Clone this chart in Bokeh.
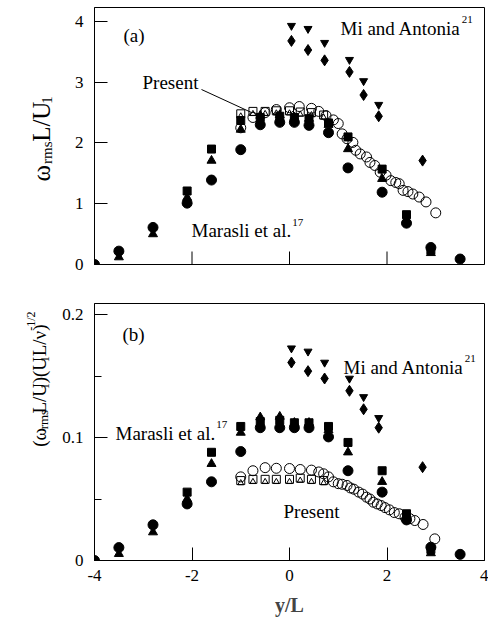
import numpy as np
from bokeh.plotting import figure
from bokeh.models import Range1d, FixedTicker, Label
from bokeh.layouts import column, row
from bokeh.embed import file_html
from bokeh.resources import INLINE

FONT = "Liberation Serif"

# ---------------- data ----------------
# Marasli et al. (filled circles / triangles / squares)
mar_x_circ = [-4.0, -3.5, -2.8, -2.1, -1.6, -1.0, -0.6, -0.2, 0.1, 0.4, 0.8, 1.2, 1.9, 2.4, 2.9, 3.5]
mar_x_tri = [-3.5, -2.8, -2.1, -1.6, -1.0, -0.6, -0.2, 0.1, 0.4, 0.8, 1.2, 1.9, 2.4, 2.9]
mar_x_sq = [-2.1, -1.6, -1.0, -0.6, -0.2, 0.1, 0.4, 0.8, 1.2, 1.9, 2.4, 2.9]

a_mar_circ = [0.0, 0.22, 0.61, 1.01, 1.39, 1.89, 2.30, 2.34, 2.34, 2.29, 2.17, 1.59, 1.19, 0.68, 0.28, 0.09]
a_mar_tri = [0.12, 0.50, 1.10, 1.71, 2.22, 2.45, 2.46, 2.42, 2.40, 2.30, 1.90, 1.41, 0.74, 0.19]
a_mar_sq = [1.21, 1.90, 2.37, 2.42, 2.44, 2.42, 2.40, 2.33, 2.10, 1.57, 0.82, 0.24]

b_mar_circ = [0.0, 0.0105, 0.029, 0.046, 0.064, 0.0886, 0.108, 0.108, 0.108, 0.108, 0.1005, 0.073, 0.0556, 0.033, 0.0108, 0.005]
b_mar_tri = [0.0054, 0.023, 0.05, 0.0786, 0.104, 0.1165, 0.117, 0.112, 0.112, 0.106, 0.088, 0.064, 0.036, 0.006]
b_mar_sq = [0.0556, 0.088, 0.109, 0.113, 0.114, 0.112, 0.112, 0.109, 0.096, 0.073, 0.038, 0.009]

# Mi and Antonia (inverted triangles / diamonds)
mi_x_tri = [0.04, 0.38, 0.72, 1.23, 1.52, 1.83]
mi_x_dia = [0.04, 0.38, 0.72, 1.23, 1.52, 1.83, 2.73]
a_mi_tri = [3.93, 3.88, 3.65, 3.37, 3.02, 2.63]
a_mi_dia = [3.68, 3.53, 3.36, 3.17, 2.79, 2.44, 1.71]
b_mi_tri = [0.1726, 0.170, 0.161, 0.148, 0.133, 0.116]
b_mi_dia = [0.161, 0.154, 0.148, 0.138, 0.123, 0.108, 0.0759]

# Present (open circles / squares / triangles)
pr_x_sq = [-1.0, -0.75, -0.5, -0.27, 0.0, 0.22, 0.45, 0.7]
a_pr_sq = [2.48, 2.52, 2.52, 2.53, 2.53, 2.51, 2.50, 2.46]
a_pr_tri = [2.44, 2.48, 2.48, 2.49, 2.49, 2.47, 2.46, 2.42]
b_pr_sq = [0.065, 0.066, 0.066, 0.066, 0.066, 0.067, 0.066, 0.065]
b_pr_tri = [0.063, 0.064, 0.064, 0.064, 0.064, 0.065, 0.064, 0.063]

a_pr_x_circ = [-1.0, -0.75, -0.5, -0.27, 0.0, 0.2, 0.45, 0.6, 0.75, 0.9, 1.0, 1.08, 1.18, 1.3, 1.36,
               1.45, 1.58, 1.65, 1.75, 1.86, 1.98, 2.08, 2.18, 2.25, 2.33, 2.43, 2.53, 2.66, 2.8, 3.0]
a_pr_circ = [2.25, 2.42, 2.50, 2.55, 2.58, 2.60, 2.57, 2.52, 2.45, 2.38, 2.32, 2.15, 2.07, 2.01, 1.88,
             1.82, 1.77, 1.68, 1.63, 1.52, 1.47, 1.38, 1.35, 1.33, 1.22, 1.20, 1.16, 1.11, 1.03, 0.85]
b_pr_x_circ = [-1.0, -0.75, -0.5, -0.27, 0.0, 0.22, 0.45, 0.6, 0.7, 0.8, 0.9, 1.0, 1.08, 1.18, 1.25, 1.32,
               1.42, 1.5, 1.58, 1.65, 1.72, 1.8, 1.88, 1.96, 2.05, 2.15, 2.25, 2.37, 2.47, 2.57, 2.74, 2.98]
b_pr_circ = [0.068, 0.073, 0.0755, 0.075, 0.0748, 0.074, 0.0735, 0.072, 0.0705, 0.068, 0.064, 0.0625, 0.062,
             0.061, 0.059, 0.058, 0.0556, 0.054, 0.0515, 0.050, 0.0474, 0.046, 0.0447, 0.043, 0.0412, 0.039,
             0.038, 0.0352, 0.034, 0.0325, 0.0293, 0.0176]

x_ticks = [-4, -2, 0, 2, 4]
x_tick_labels = ["-4", "-2", "0", "2", "4"]
a_y_ticks = [0, 1, 2, 3, 4]
a_y_tick_labels = ["0", "1", "2", "3", "4"]
b_y_ticks = [0, 0.1, 0.2]
b_y_minor = [0.05, 0.15]
b_y_tick_labels = ["0", "0.1", "0.2"]

# ---------------- layout helpers ----------------
W = 488
LW = 56            # width of the side strip holding the rotated y labels
FL, FR = 94, 484   # frame left/right in page pixels
XR = (-4.0, 4.0)
YA = (0.0, 4.23)
YB = (0.0, 0.209)


def sx(px):
    return XR[0] + (px - FL) * (XR[1] - XR[0]) / (FR - FL)


def make_sy(top, bottom, yr):
    def f(py):
        return yr[0] + (bottom - py) * (yr[1] - yr[0]) / (bottom - top)
    return f


WID = {'(': 0.333, ')': 0.333, 'ω': 0.70, 'r': 0.333, 'm': 0.778, 's': 0.389, 'L': 0.611,
       '/': 0.278, 'U': 0.722, '1': 0.5, '2': 0.5, '7': 0.5, 'ν': 0.5, '-': 0.333, 'M': 0.889,
       'a': 0.444, 'i': 0.278, 'n': 0.5, 'd': 0.5, ' ': 0.25, 'A': 0.722, 't': 0.278, 'o': 0.5,
       'l': 0.278, 'e': 0.444, '.': 0.25, 'P': 0.556}


def tw(s, size):
    return sum(WID.get(c, 0.5) for c in s) * size


def hlabel(p, text, px, py, size, sy):
    p.add_layout(Label(x=sx(px), y=sy(py), text=text, text_font=FONT, text_font_size=f"{size}px",
                       text_align="left", text_baseline="alphabetic", text_color="black"))


def label_strip(h, pieces, px_base, py_start, gap):
    """A narrow figure whose data coordinates are page pixels; holds a rotated, multi-piece label."""
    s = figure(width=LW, height=h, x_range=Range1d(0, LW), y_range=Range1d(h, 0),
               output_backend="svg", toolbar_location=None,
               min_border_left=0, min_border_right=0, min_border_top=0, min_border_bottom=0)
    s.axis.visible = False
    s.grid.visible = False
    s.outline_line_color = None
    s.background_fill_color = "white"
    s.border_fill_color = "white"
    py = py_start
    for text, size, shift in pieces:
        s.add_layout(Label(x=px_base + shift, y=py, text=text, angle=np.pi / 2,
                           text_font=FONT, text_font_size=f"{size}px", text_align="left",
                           text_baseline="alphabetic", text_color="black"))
        py -= tw(text, size) + gap
    return s


def make_fig(h, top, bottom, yr, yticks, ylabels, show_x_labels, minor=None):
    p = figure(width=W - LW, height=h, x_range=Range1d(*XR), y_range=Range1d(*yr),
               output_backend="svg", toolbar_location=None,
               min_border_left=FL - LW, min_border_right=W - FR,
               min_border_top=top, min_border_bottom=bottom)
    p.grid.visible = False
    p.outline_line_color = "black"
    p.outline_line_width = 1
    p.background_fill_color = "white"
    p.border_fill_color = "white"
    for ax in (p.xaxis[0], p.yaxis[0]):
        ax.axis_line_color = "black"
        ax.major_tick_line_color = "black"
        ax.minor_tick_line_color = "black"
        ax.major_tick_in = 13
        ax.major_tick_out = 0
        ax.minor_tick_in = 7
        ax.minor_tick_out = 0
        ax.major_label_text_font = FONT
        ax.major_label_text_font_size = "17px"
        ax.major_label_text_color = "black"
    p.xaxis.ticker = FixedTicker(ticks=x_ticks, minor_ticks=[])
    p.xaxis.major_label_overrides = {t: l for t, l in zip(x_ticks, x_tick_labels)}
    p.xaxis.major_label_standoff = 9
    if not show_x_labels:
        # upper panel: tick marks only, no numbers
        p.xaxis.visible = False
        tick_len = 13 * (yr[1] - yr[0]) / (h - top - bottom)
        p.segment(x0=x_ticks, y0=[yr[0]] * len(x_ticks), x1=x_ticks,
                  y1=[yr[0] + tick_len] * len(x_ticks), line_color="black", line_width=1)
        p.segment(x0=[XR[0]], y0=[yr[0]], x1=[XR[1]], y1=[yr[0]], line_color="black", line_width=1)
    p.yaxis.ticker = FixedTicker(ticks=yticks, minor_ticks=minor or [])
    p.yaxis.major_label_overrides = {t: l for t, l in zip(yticks, ylabels)}
    p.yaxis.major_label_standoff = 11
    return p


def draw(p, pr_cx, pr_c, pr_sq, pr_tri, mar_c, mar_t, mar_s, mi_t, mi_d):
    p.scatter(pr_cx, pr_c, marker="circle", size=10, fill_color=None, line_color="black", line_width=1)
    p.scatter(pr_x_sq, pr_sq, marker="square", size=8, fill_color=None, line_color="black", line_width=1)
    p.scatter(pr_x_sq, pr_tri, marker="triangle", size=6, fill_color=None, line_color="black", line_width=1)
    p.scatter(mar_x_circ, mar_c, marker="circle", size=10, fill_color="black", line_color="black")
    p.scatter(mar_x_tri, mar_t, marker="triangle", size=9, fill_color="black", line_color="black")
    p.scatter(mar_x_sq, mar_s, marker="square", size=8, fill_color="black", line_color="black")
    p.scatter(mi_x_tri, mi_t, marker="inverted_triangle", size=8, fill_color="black", line_color="black")
    p.scatter(mi_x_dia, mi_d, marker="diamond", size=11, fill_color="black", line_color="black")


# ---------------- panel (a) ----------------
A_TOP, A_BOT, A_H = 7, 264, 285
pa = make_fig(A_H, A_TOP, A_H - A_BOT, YA, a_y_ticks, a_y_tick_labels, False)
sya = make_sy(A_TOP, A_BOT, YA)
draw(pa, a_pr_x_circ, a_pr_circ, a_pr_sq, a_pr_tri, a_mar_circ, a_mar_tri, a_mar_sq, a_mi_tri, a_mi_dia)
pa.segment(x0=[sx(201)], y0=[sya(89)], x1=[sx(251)], y1=[sya(112)], line_color="black", line_width=1)
hlabel(pa, "(a)", 123, 35, 19, sya)
hlabel(pa, "Present", 142, 82, 19, sya)
hlabel(pa, "Marasli et al.", 191, 230, 19, sya)
hlabel(pa, "17", 191 + tw("Marasli et al.", 19) + 1, 222, 11, sya)
hlabel(pa, "Mi and Antonia", 340, 28, 19, sya)
hlabel(pa, "21", 340 + tw("Mi and Antonia", 19) + 1, 19, 11, sya)
la = label_strip(A_H, [("ω", 25, 0), ("rms", 15, 5), ("L/U", 25, 0), ("1", 15, 5)], 41, 193, 2)

# ---------------- panel (b) ----------------
B_OFF = A_H
B_H = 635 - A_H
B_TOP, B_BOT = 303 - B_OFF, 560 - B_OFF
pb = make_fig(B_H, B_TOP, B_H - B_BOT, YB, b_y_ticks, b_y_tick_labels, True, minor=b_y_minor)
pb.xaxis.axis_label = "y/L"
pb.xaxis.axis_label_text_font = FONT
pb.xaxis.axis_label_text_font_size = "20px"
pb.xaxis.axis_label_text_font_style = "bold"
pb.xaxis.axis_label_standoff = 10
syb0 = make_sy(B_TOP, B_BOT, YB)


def syb(py):
    return syb0(py - B_OFF)


draw(pb, b_pr_x_circ, b_pr_circ, b_pr_sq, b_pr_tri, b_mar_circ, b_mar_tri, b_mar_sq, b_mi_tri, b_mi_dia)
hlabel(pb, "(b)", 122, 334, 19, syb)
hlabel(pb, "Marasli et al.", 115, 433, 19, syb)
hlabel(pb, "17", 115 + tw("Marasli et al.", 19) + 1, 424, 11, syb)
hlabel(pb, "Mi and Antonia", 343, 367, 19, syb)
hlabel(pb, "21", 343 + tw("Mi and Antonia", 19) + 1, 358, 11, syb)
hlabel(pb, "Present", 283, 511, 19, syb)
lb = label_strip(B_H, [("(", 19, 0), ("ω", 19, 0), ("rms", 13, 4), ("L/U", 19, 0), ("1", 13, 5),
                       (")(U", 19, 0), ("1", 13, 5), ("L/ν)", 19, 0), ("-1/2", 12, -9)],
                 39, 480 - B_OFF, 2)

layout = column(row(la, pa, spacing=0), row(lb, pb, spacing=0), spacing=0)
open("out.html", "w").write(file_html(layout, INLINE))
